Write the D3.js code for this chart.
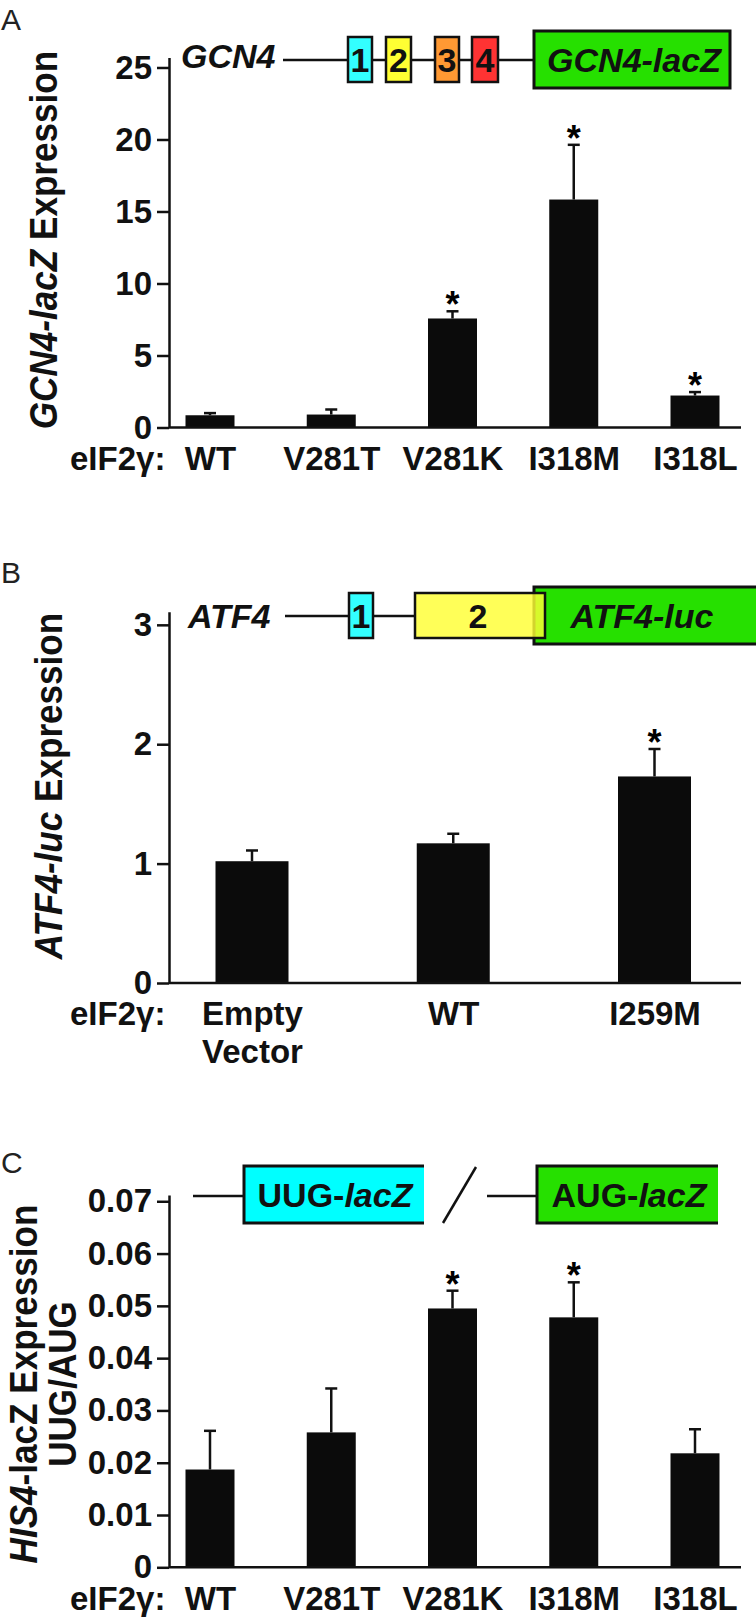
<!DOCTYPE html>
<html>
<head>
<meta charset="utf-8">
<script src="https://cdn.jsdelivr.net/npm/d3@7"></script>
<style>
  body { margin: 0; background: #fff; }
  svg { display: block; font-family: "Liberation Sans", Arial, sans-serif; }
</style>
</head>
<body>
<script>
const W = 756, H = 1622;
const FONT = '"Liberation Sans", Arial, sans-serif';

// ---- data ----
const catsA = ["WT", "V281T", "V281K", "I318M", "I318L"];
const gcn4Mean = [0.85, 0.9, 7.57, 15.83, 2.22];
const gcn4Sem = [0.15, 0.35, 0.5, 3.8, 0.24];
const gcn4Sig = [false, false, true, true, true];
const ticksA = [0, 5, 10, 15, 20, 25];

const catsB = ["Empty Vector", "WT", "I259M"];
const labelsB = [["Empty", "Vector"], ["WT"], ["I259M"]];
const atf4Mean = [1.02, 1.17, 1.73];
const atf4Sem = [0.09, 0.08, 0.23];
const atf4Sig = [false, false, true];
const ticksB = [0, 1, 2, 3];

const catsC = ["WT", "V281T", "V281K", "I318M", "I318L"];
const his4Mean = [0.0187, 0.0258, 0.0495, 0.0478, 0.0218];
const his4Sem = [0.0074, 0.0084, 0.0034, 0.0067, 0.0046];
const his4Sig = [false, false, true, true, false];
const ticksC = [0, 0.01, 0.02, 0.03, 0.04, 0.05, 0.06, 0.07];

const svg = d3.select("body").append("svg").attr("width", W).attr("height", H);

const AX = 169, AX_END = 741;

function panel(p) {
  const y = d3.scaleLinear().domain([0, p.yTop]).range([p.y0, p.y1]);
  const x = d3.scalePoint().domain(p.cats).range(p.xr);
  const g = svg.append("g");

  g.selectAll("rect.bar").data(p.cats).join("rect")
    .attr("class", "bar")
    .attr("x", d => x(d) - p.bw / 2)
    .attr("y", (d, i) => y(p.mean[i]))
    .attr("width", p.bw)
    .attr("height", (d, i) => p.y0 - y(p.mean[i]))
    .attr("fill", "#0b0b0b");

  // error bars (upper only)
  g.selectAll("line.err").data(p.cats).join("line")
    .attr("class", "err")
    .attr("x1", d => x(d)).attr("x2", d => x(d))
    .attr("y1", (d, i) => y(p.mean[i]))
    .attr("y2", (d, i) => y(p.mean[i] + p.sem[i]))
    .attr("stroke", "#111").attr("stroke-width", 2.5);
  g.selectAll("line.cap").data(p.cats).join("line")
    .attr("class", "cap")
    .attr("x1", d => x(d) - 6).attr("x2", d => x(d) + 6)
    .attr("y1", (d, i) => y(p.mean[i] + p.sem[i]))
    .attr("y2", (d, i) => y(p.mean[i] + p.sem[i]))
    .attr("stroke", "#111").attr("stroke-width", 2.5);

  g.selectAll("text.star").data(p.cats.filter((d, i) => p.sig[i])).join("text")
    .attr("class", "star")
    .attr("x", d => x(d))
    .attr("y", d => { const i = p.cats.indexOf(d); return y(p.mean[i] + p.sem[i]) + 6; })
    .attr("text-anchor", "middle")
    .attr("font-size", 36).attr("font-weight", "bold")
    .text("*");

  // y axis
  const ya = g.append("g")
    .attr("transform", `translate(${AX},0)`)
    .call(d3.axisLeft(y).tickValues(p.ticks).tickFormat(p.fmt)
      .tickSize(12).tickPadding(5).tickSizeOuter(0));
  ya.attr("font-size", 33).attr("font-family", FONT).attr("font-weight", "bold");
  ya.selectAll("path, line").attr("stroke", "#111").attr("stroke-width", 2.5);
  ya.selectAll("text").attr("fill", "#111");

  // x axis
  const xa = g.append("g")
    .attr("transform", `translate(0,${p.y0})`)
    .call(d3.axisBottom(x).tickSize(0).tickPadding(19));
  xa.select(".domain").remove();
  xa.attr("font-size", 33).attr("font-family", FONT).attr("font-weight", "bold");
  xa.selectAll(".tick text").attr("fill", "#111");
  if (p.lines) {
    xa.selectAll(".tick text").each(function(d, i) {
      const t = d3.select(this).attr("dy", null).text(null);
      p.lines[i].forEach((s, k) => t.append("tspan").attr("x", 0)
        .attr("dy", k === 0 ? "0.71em" : "1.15em").text(s));
    });
  }
  g.append("line")
    .attr("x1", AX).attr("x2", AX_END).attr("y1", p.y0).attr("y2", p.y0)
    .attr("stroke", "#111").attr("stroke-width", 2.5);

  g.append("text")
    .attr("x", 70).attr("y", p.y0 + 42.4)
    .attr("font-size", 33).attr("font-weight", "bold").attr("fill", "#111")
    .text("eIF2γ:");
}

panel({ cats: catsA, mean: gcn4Mean, sem: gcn4Sem, sig: gcn4Sig, ticks: ticksA,
  fmt: d3.format("d"), yTop: 25.7, y0: 427.5, y1: 57.4, xr: [210, 695], bw: 49 });
panel({ cats: catsB, mean: atf4Mean, sem: atf4Sem, sig: atf4Sig, ticks: ticksB, lines: labelsB,
  fmt: d3.format("d"), yTop: 3.11, y0: 983, y1: 611.7, xr: [252, 654.5], bw: 73 });
panel({ cats: catsC, mean: his4Mean, sem: his4Sem, sig: his4Sig, ticks: ticksC,
  fmt: d => d === 0 ? "0" : d3.format(".2f")(d), yTop: 0.0712, y0: 1567.3, y1: 1195,
  xr: [210, 695], bw: 49 });

// panel letters
[["A", 30], ["B", 583], ["C", 1173]].forEach(([s, yy]) =>
  svg.append("text").attr("x", 1).attr("y", yy).attr("font-size", 30).attr("fill", "#222").text(s));

// y titles
function yTitle(parts, x, y) {
  const t = svg.append("text")
    .attr("transform", `translate(${x},${y}) rotate(-90) scale(0.9,1)`)
    .attr("text-anchor", "middle").attr("font-size", 39).attr("font-weight", "bold").attr("fill", "#111");
  parts.forEach(([s, it]) => t.append("tspan").attr("font-style", it ? "italic" : "normal").text(s));
}
yTitle([["GCN4-lacZ", true], [" Expression", false]], 57, 240);
yTitle([["ATF4-luc", true], [" Expression", false]], 62, 786);
yTitle([["HIS4", true], ["-lacZ Expression", false]], 37, 1384);
yTitle([["UUG/AUG", false]], 76, 1384);

// gene diagrams
function seg(x1, y1, x2, y2) {
  svg.append("line").attr("x1", x1).attr("y1", y1).attr("x2", x2).attr("y2", y2)
    .attr("stroke", "#111").attr("stroke-width", 2.5);
}
function box(x, y, w, h, fill, opts = {}) {
  const r = svg.append("rect").attr("x", x).attr("y", y).attr("width", w).attr("height", h)
    .attr("fill", fill).attr("fill-opacity", opts.op || 1);
  if (opts.open) {
    r.attr("stroke", "none");
    svg.append("path").attr("d", `M${x + w},${y}H${x}V${y + h}H${x + w}`)
      .attr("fill", "none").attr("stroke", "#111").attr("stroke-width", 3);
  } else {
    r.attr("stroke", "#111").attr("stroke-width", opts.sw || 2.5);
  }
}
function label(parts, cx, y, size, weight) {
  const t = svg.append("text").attr("x", cx).attr("y", y).attr("text-anchor", "middle")
    .attr("font-size", size).attr("font-weight", weight || "bold").attr("fill", "#111");
  parts.forEach(([s, it]) => t.append("tspan").attr("font-style", it ? "italic" : "normal").text(s));
}

// A
svg.append("text").attr("x", 181).attr("y", 68).attr("font-size", 34).attr("font-weight", "bold")
  .attr("font-style", "italic").attr("fill", "#111").text("GCN4");
seg(283, 60, 348, 60);
const uorfs = [[348, 24, "#33ffff", "1"], [386, 25, "#ffff33", "2"], [435, 24, "#ff9933", "3"], [472, 26, "#ff3333", "4"]];
seg(372, 60, 534, 60);
uorfs.forEach(([x, w, c, n]) => { box(x, 37, w, 45, c); label([[n, false]], x + w / 2, 72, 34); });
box(534, 31, 196, 57, "#26e000", { sw: 3 });
label([["GCN4-lacZ", true]], 634, 71.5, 34);

// B
svg.append("text").attr("x", 188).attr("y", 628).attr("font-size", 34).attr("font-weight", "bold")
  .attr("font-style", "italic").attr("fill", "#111").text("ATF4");
seg(285, 616, 415, 616);
box(349, 593, 24, 45, "#33ffff");
label([["1", false]], 361, 628, 34);
box(534, 587, 222, 57, "#26e000", { open: true });
box(415, 593, 130, 45, "#ffff33", { op: 0.82 });
label([["2", false]], 478, 628, 34);
label([["ATF4-luc", true]], 642, 628, 34);

// C
seg(193, 1196, 244, 1196);
box(244, 1166, 180, 57, "#00ffff", { open: true });
label([["UUG-", false], ["lacZ", true]], 335, 1207, 34);
seg(476, 1167, 443, 1223);
seg(487, 1196, 537, 1196);
box(537, 1166, 181, 57, "#26e000", { open: true });
label([["AUG-", false], ["lacZ", true]], 629, 1207, 34);
</script>
</body>
</html>
